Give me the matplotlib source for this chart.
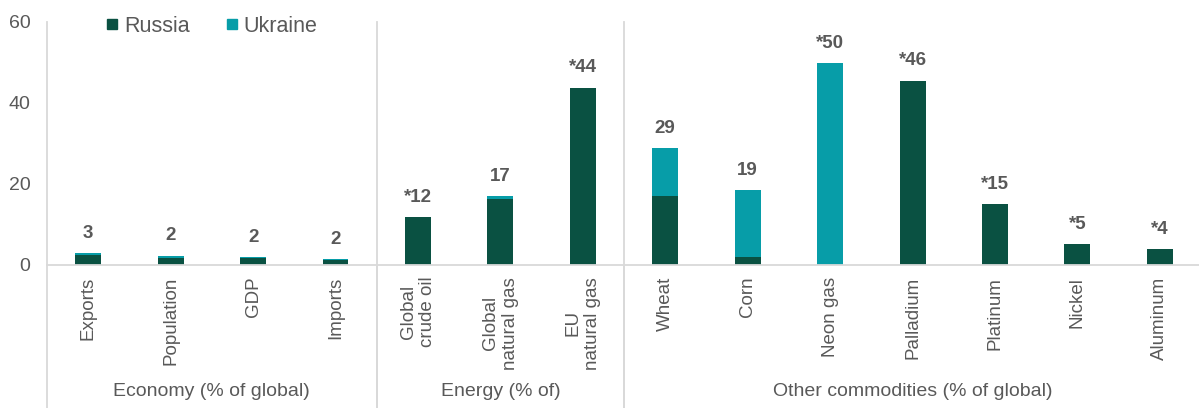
import matplotlib.pyplot as plt
import matplotlib.transforms as mtransforms
from matplotlib.lines import Line2D

categories = [
    "Exports", "Population", "GDP", "Imports",
    "Global\ncrude oil", "Global\nnatural gas", "EU\nnatural gas",
    "Wheat", "Corn", "Neon gas", "Palladium", "Platinum", "Nickel", "Aluminum",
]
russia = [2.5, 1.8, 1.8, 1.2, 11.9, 16.4, 43.8, 17.0, 2.0, 0.0, 45.5, 15.0, 5.1, 4.0]
ukraine = [0.4, 0.5, 0.1, 0.3, 0.0, 0.6, 0.0, 11.8, 16.5, 49.9, 0.0, 0.0, 0.0, 0.0]
value_labels = ["3", "2", "2", "2", "*12", "17", "*44", "29", "19",
                "*50", "*46", "*15", "*5", "*4"]
groups = ["Economy (% of global)", "Energy (% of)", "Other commodities (% of global)"]
group_sizes = [4, 3, 7]

russia_color = "#0a5142"
ukraine_color = "#079da8"
text_color = "#595959"
line_color = "#d9d9d9"

plt.rcParams["font.family"] = ["Liberation Sans", "DejaVu Sans"]

fig = plt.figure(figsize=(11.99, 4.08), dpi=100)
ax = fig.add_axes([0.0392, 0.3505, 0.9625, 0.5956])

x = list(range(len(categories)))
ax.bar(x, russia, width=0.315, color=russia_color, label="Russia")
ax.bar(x, ukraine, width=0.315, bottom=russia, color=ukraine_color, label="Ukraine")

for xi, r, u, lab in zip(x, russia, ukraine, value_labels):
    ax.annotate(
        lab,
        (xi, r + u),
        xytext=(0, 11),
        textcoords="offset points",
        ha="center",
        va="baseline",
        fontsize=13.5,
        fontweight="bold",
        color=text_color,
    )

ax.set_xlim(-0.5, len(categories) - 0.5)
ax.set_ylim(0, 60)
ax.set_yticks([0, 20, 40, 60])
ax.tick_params(axis="y", length=0, pad=12, labelsize=14, labelcolor=text_color)
ax.tick_params(axis="x", length=0, pad=8.5)
ax.set_xticks(x)
ax.set_xticklabels(
    categories,
    rotation=90,
    ha="center",
    va="top",
    multialignment="center",
    fontsize=13.5,
    color=text_color,
)

for side in ["top", "right", "left"]:
    ax.spines[side].set_visible(False)
ax.spines["bottom"].set_color(line_color)
ax.spines["bottom"].set_linewidth(1.3)

trans = mtransforms.blended_transform_factory(ax.transData, ax.transAxes)

# left axis line and group separators running down to the figure bottom
start = -0.5
for size, name in zip(group_sizes, groups):
    ax.add_line(Line2D([start, start], [-0.59, 1.0], transform=trans,
                       color=line_color, linewidth=1.3, clip_on=False))
    ax.text(start + size / 2, -0.519, name, transform=trans,
            ha="center", va="center", fontsize=14, color=text_color)
    start += size
    if start < len(categories) - 0.5:
        ax.add_line(Line2D([start, start], [-0.59, 0.0], transform=trans,
                           color=line_color, linewidth=1.3, clip_on=False))

handles = [
    Line2D([], [], marker="s", linestyle="none", markersize=7.5,
           color=russia_color, label="Russia"),
    Line2D([], [], marker="s", linestyle="none", markersize=7.5,
           color=ukraine_color, label="Ukraine"),
]
fig.legend(
    handles=handles,
    loc="center left",
    bbox_to_anchor=(107 / 1199, 0.936),
    ncol=2,
    frameon=False,
    fontsize=15.5,
    labelcolor=text_color,
    handlelength=0.5,
    handletextpad=0.3,
    columnspacing=1.7,
    borderpad=0,
    borderaxespad=0,
)

fig.savefig("out.png", dpi=100)
